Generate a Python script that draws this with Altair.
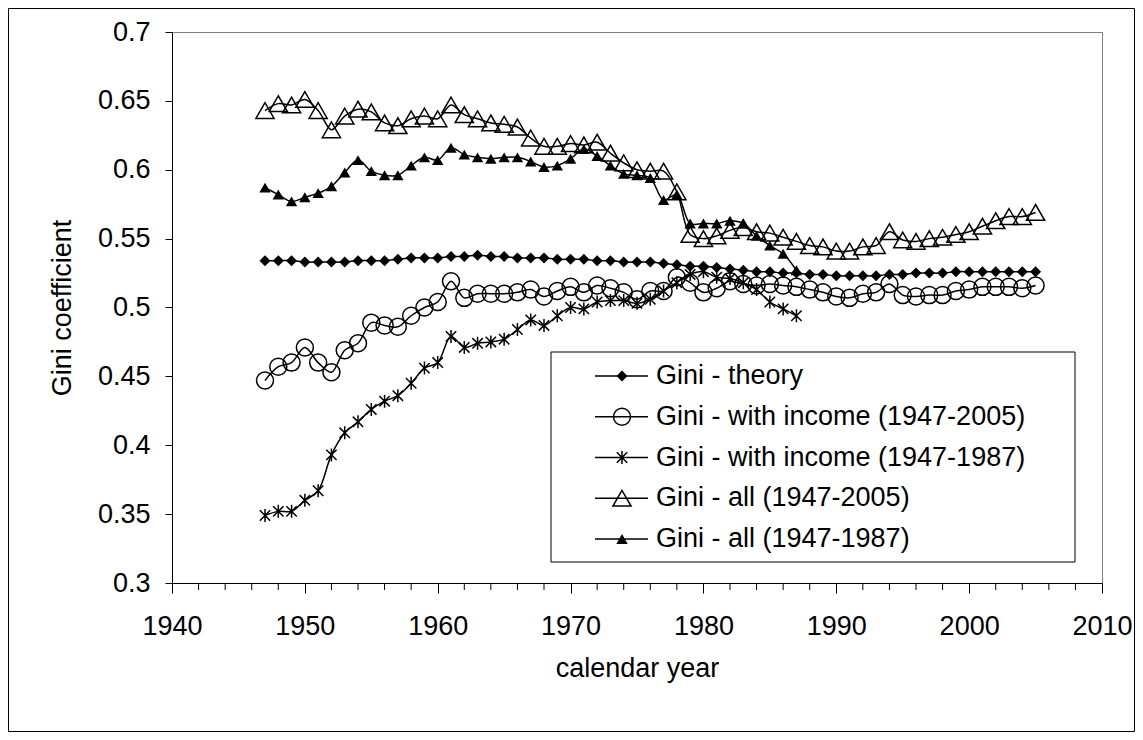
import altair as alt
import pandas as pd

# ---------------- data ----------------
years_full = list(range(1947, 2006))
years_short = list(range(1947, 1988))

gini_theory = [
    0.534, 0.534, 0.534, 0.533, 0.533, 0.533, 0.533, 0.534, 0.534, 0.534,
    0.535, 0.536, 0.536, 0.536, 0.537, 0.537, 0.538, 0.537, 0.537, 0.536,
    0.536, 0.536, 0.535, 0.535, 0.535, 0.534, 0.534, 0.533, 0.533, 0.533,
    0.532, 0.531, 0.530, 0.530, 0.529, 0.528, 0.527, 0.526, 0.526, 0.525,
    0.525, 0.524, 0.524, 0.523, 0.523, 0.523, 0.523, 0.524, 0.524, 0.525,
    0.525, 0.525, 0.526, 0.526, 0.526, 0.526, 0.526, 0.526, 0.526,
]
gini_income_full = [
    0.447, 0.457, 0.460, 0.471, 0.460, 0.453, 0.469, 0.474, 0.489, 0.487,
    0.486, 0.494, 0.500, 0.504, 0.519, 0.507, 0.510, 0.510, 0.510, 0.511,
    0.513, 0.508, 0.512, 0.515, 0.511, 0.516, 0.514, 0.511, 0.506, 0.512,
    0.512, 0.522, 0.518, 0.511, 0.514, 0.519, 0.517, 0.516, 0.517, 0.516,
    0.515, 0.513, 0.511, 0.508, 0.507, 0.510, 0.511, 0.517, 0.509, 0.508,
    0.509, 0.509, 0.512, 0.513, 0.515, 0.515, 0.515, 0.514, 0.516,
]
gini_income_short = [
    0.349, 0.352, 0.352, 0.360, 0.367, 0.393, 0.409, 0.417, 0.426, 0.432,
    0.436, 0.445, 0.456, 0.460, 0.479, 0.471, 0.474, 0.475, 0.477, 0.484,
    0.491, 0.487, 0.494, 0.500, 0.499, 0.504, 0.505, 0.505, 0.503, 0.506,
    0.512, 0.518, 0.524, 0.526, 0.522, 0.521, 0.518, 0.513, 0.504, 0.499,
    0.494,
]
gini_all_full = [
    0.643, 0.648, 0.647, 0.651, 0.643, 0.629, 0.639, 0.644, 0.642, 0.634,
    0.632, 0.637, 0.639, 0.637, 0.647, 0.640, 0.637, 0.634, 0.633, 0.631,
    0.623, 0.617, 0.617, 0.619, 0.618, 0.620, 0.612, 0.605, 0.600, 0.599,
    0.599, 0.584, 0.553, 0.550, 0.552, 0.556, 0.558, 0.555, 0.554, 0.551,
    0.548, 0.545, 0.544, 0.541, 0.541, 0.544, 0.545, 0.555, 0.549, 0.548,
    0.550, 0.551, 0.553, 0.555, 0.559, 0.563, 0.566, 0.566, 0.569,
]
gini_all_short = [
    0.587, 0.582, 0.577, 0.580, 0.583, 0.588, 0.598, 0.607, 0.599, 0.596,
    0.596, 0.603, 0.609, 0.607, 0.616, 0.611, 0.609, 0.608, 0.609, 0.609,
    0.606, 0.602, 0.603, 0.608, 0.615, 0.610, 0.603, 0.597, 0.596, 0.594,
    0.578, 0.582, 0.561, 0.561, 0.561, 0.563, 0.561, 0.552, 0.545, 0.539,
    0.527,
]

series_names = [
    "Gini - theory",
    "Gini - with income (1947-2005)",
    "Gini - with income (1947-1987)",
    "Gini - all (1947-2005)",
    "Gini - all (1947-1987)",
]
series_years = [years_full, years_full, years_short, years_full, years_short]
series_values = [gini_theory, gini_income_full, gini_income_short,
                 gini_all_full, gini_all_short]

x_ticks = [1940, 1950, 1960, 1970, 1980, 1990, 2000, 2010]
x_minor_ticks = [1942, 1944, 1946, 1948, 1952, 1954, 1956, 1958,
                 1962, 1964, 1966, 1968, 1972, 1974, 1976, 1978,
                 1982, 1984, 1986, 1988, 1992, 1994, 1996, 1998,
                 2002, 2004, 2006, 2008]
y_ticks = [0.3, 0.35, 0.4, 0.45, 0.5, 0.55, 0.6, 0.65, 0.7]

rows = []
for name, yrs, vals in zip(series_names, series_years, series_values):
    for yr, v in zip(yrs, vals):
        rows.append({"series": name, "year": yr, "gini": v})
df = pd.DataFrame(rows)

# ---------------- styles ----------------
FONT = "Liberation Sans"
FS = 27
W, H = 930, 551
STAR = "M0,-1L0,1M-0.8,-0.8L0.8,0.8M-0.8,0.8L0.8,-0.8"
styles = [
    dict(shape="diamond", filled=True, size=121, strokeWidth=1),
    dict(shape="circle", filled=False, size=289, strokeWidth=1.5),
    dict(shape=STAR, filled=False, size=169, strokeWidth=1.5),
    dict(shape="triangle-up", filled=False, size=330, strokeWidth=1.5),
    dict(shape="triangle-up", filled=True, size=130, strokeWidth=1),
]

x_scale = alt.Scale(domain=[1940, 2010], nice=False, zero=False)
y_scale = alt.Scale(domain=[0.3, 0.7], nice=False, zero=False)

x_axis = alt.Axis(values=x_ticks, format="d", tickSize=10, labelPadding=20,
                  labelFlush=False, labelOverlap=False, grid=False,
                  domainColor="black", tickColor="black", labelColor="black",
                  title="calendar year", titleX=W / 2, titleY=85,
                  titleBaseline="middle", titleAlign="center",
                  titleColor="black")
y_axis = alt.Axis(values=y_ticks, format=".2~f", tickSize=7, labelPadding=15,
                  labelFlush=False, labelOverlap=False, grid=False,
                  domainColor="black", tickColor="black", labelColor="black",
                  title="Gini coefficient", titleAngle=270, titleX=-110,
                  titleY=H / 2, titleBaseline="middle", titleAlign="center",
                  titleColor="black")

X = alt.X("year:Q", scale=x_scale, axis=x_axis)
Y = alt.Y("gini:Q", scale=y_scale, axis=y_axis)

layers = []

# outer chart frame
frame = alt.Chart(pd.DataFrame({"k": [0]})).mark_rect(
    fill="transparent", stroke="black", strokeWidth=1
).encode(x=alt.value(-163.5), x2=alt.value(962.5),
         y=alt.value(-23.5), y2=alt.value(699.5))
layers.append(frame)

for name, st in zip(series_names, styles):
    base = alt.Chart(df).transform_filter(alt.datum.series == name)
    line = base.mark_line(interpolate="catmull-rom", color="black",
                          strokeWidth=1.5).encode(x=X, y=Y)
    pts = base.mark_point(shape=st["shape"], filled=st["filled"],
                          size=st["size"], strokeWidth=st["strokeWidth"],
                          color="black", opacity=1).encode(x=X, y=Y)
    layers += [line, pts]

# minor ticks on x axis
minor = alt.Chart(pd.DataFrame({"year": x_minor_ticks})).mark_rule(
    color="black", strokeWidth=1
).encode(x=alt.X("year:Q", scale=x_scale, axis=x_axis),
         y=alt.value(H), y2=alt.value(H + 7))
layers.append(minor)

# legend
legend_box = alt.Chart(pd.DataFrame({"k": [0]})).mark_rect(
    fill="white", stroke="black", strokeWidth=1
).encode(x=alt.value(379), x2=alt.value(903), y=alt.value(320),
         y2=alt.value(530))
layers.append(legend_box)

for i, (name, st) in enumerate(zip(series_names, styles)):
    ly = 344 + 40.75 * i
    ldata = pd.DataFrame({"label": [name]})
    seg = alt.Chart(ldata).mark_rule(color="black", strokeWidth=1.5).encode(
        x=alt.value(423), x2=alt.value(476), y=alt.value(ly))
    sym = alt.Chart(ldata).mark_point(
        shape=st["shape"], filled=st["filled"], size=st["size"],
        strokeWidth=st["strokeWidth"], color="black", opacity=1
    ).encode(x=alt.value(450), y=alt.value(ly))
    txt = alt.Chart(ldata).mark_text(
        align="left", baseline="middle", font=FONT, fontSize=FS, color="black"
    ).encode(x=alt.value(484), y=alt.value(ly), text="label:N")
    layers += [seg, sym, txt]

chart = alt.layer(*layers).properties(
    width=W, height=H,
    autosize=alt.AutoSizeParams(type="none"),
    padding={"left": 164, "top": 24, "right": 33, "bottom": 149},
    background="white",
).configure_view(
    stroke="#808080", strokeWidth=1
).configure_axis(
    labelFont=FONT, labelFontSize=FS, titleFont=FONT, titleFontSize=FS,
    titleFontWeight="normal"
)

chart.save("out.html", embed_options={"renderer": "svg", "actions": False})
